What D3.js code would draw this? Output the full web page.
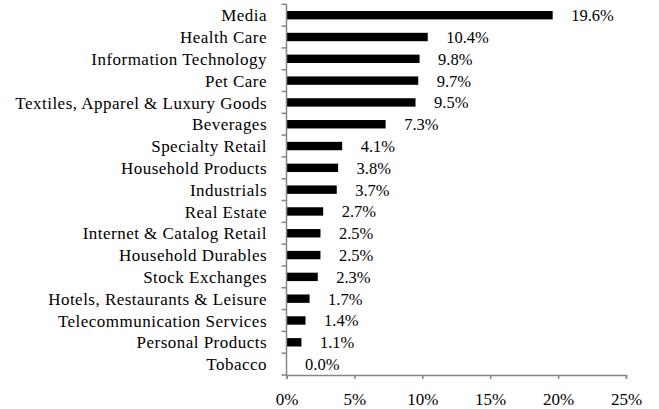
<!DOCTYPE html>
<html><head><meta charset="utf-8">
<script src="https://cdn.jsdelivr.net/npm/d3@7"></script>
<style>
html,body{margin:0;padding:0;background:#fff;}
svg{display:block;}
text{font-family:"Liberation Serif","Times New Roman",serif;fill:#000;}
</style></head><body>
<svg id="chart" width="659" height="409"></svg>
<script>
const categories = ["Media","Health Care","Information Technology","Pet Care","Textiles, Apparel & Luxury Goods","Beverages","Specialty Retail","Household Products","Industrials","Real Estate","Internet & Catalog Retail","Household Durables","Stock Exchanges","Hotels, Restaurants & Leisure","Telecommunication Services","Personal Products","Tobacco"];
const values = [19.6,10.4,9.8,9.7,9.5,7.3,4.1,3.8,3.7,2.7,2.5,2.5,2.3,1.7,1.4,1.1,0.0];
const xTicks = [0,5,10,15,20,25];

const svg = d3.select("#chart");
const m = {left:286.5, top:4.3, right:626, bottom:375};
const x = d3.scaleLinear().domain([0,25]).range([m.left, m.right]);
const yTick = d3.scaleBand().domain(categories).range([m.top, m.bottom]);
const axisColor = "#868686";

// bars
svg.append("g").selectAll("rect").data(values).join("rect")
  .attr("x", x(0))
  .attr("y", (d,i)=>yTick(categories[i]) + yTick.bandwidth()/2 - 4.2)
  .attr("width", d=>x(d)-x(0))
  .attr("height", 8.4)
  .attr("fill","#000");

// value labels
svg.append("g").selectAll("text").data(values).join("text")
  .attr("x", d=>x(d)+18.5)
  .attr("y", (d,i)=>yTick(categories[i]) + yTick.bandwidth()/2)
  .attr("dy","0.36em")
  .attr("font-size","16.5px")
  .text(d=>d.toFixed(1)+"%");

// y axis
const gy = svg.append("g");
gy.append("line").attr("x1",m.left).attr("x2",m.left).attr("y1",m.top).attr("y2",m.bottom)
  .attr("stroke",axisColor).attr("stroke-width",1.5);
gy.selectAll("line.t").data(categories.concat(["__end"])).join("line").attr("class","t")
  .attr("x1",m.left-5).attr("x2",m.left)
  .attr("y1",(d,i)=> i<categories.length ? yTick(d) : m.bottom)
  .attr("y2",(d,i)=> i<categories.length ? yTick(d) : m.bottom)
  .attr("stroke",axisColor).attr("stroke-width",1.5);
gy.selectAll("text").data(categories).join("text")
  .attr("x", 267)
  .attr("y", d=>yTick(d)+yTick.bandwidth()/2)
  .attr("dy","0.36em")
  .attr("text-anchor","end")
  .attr("font-size","17px")
  .attr("letter-spacing","0.48px")
  .text(d=>d);

// x axis
const xAxis = d3.axisBottom(x).tickValues(xTicks).tickSize(4).tickPadding(14).tickFormat(d=>d+"%");
const gx = svg.append("g").attr("transform",`translate(0,${m.bottom})`).call(xAxis);
gx.select(".domain").attr("stroke",axisColor).attr("stroke-width",1.5);
gx.selectAll(".tick line").attr("stroke",axisColor).attr("stroke-width",1.5);
gx.selectAll(".tick text").attr("font-size","17px").attr("font-family","'Liberation Serif',serif").attr("fill","#000");
</script>
</body></html>
